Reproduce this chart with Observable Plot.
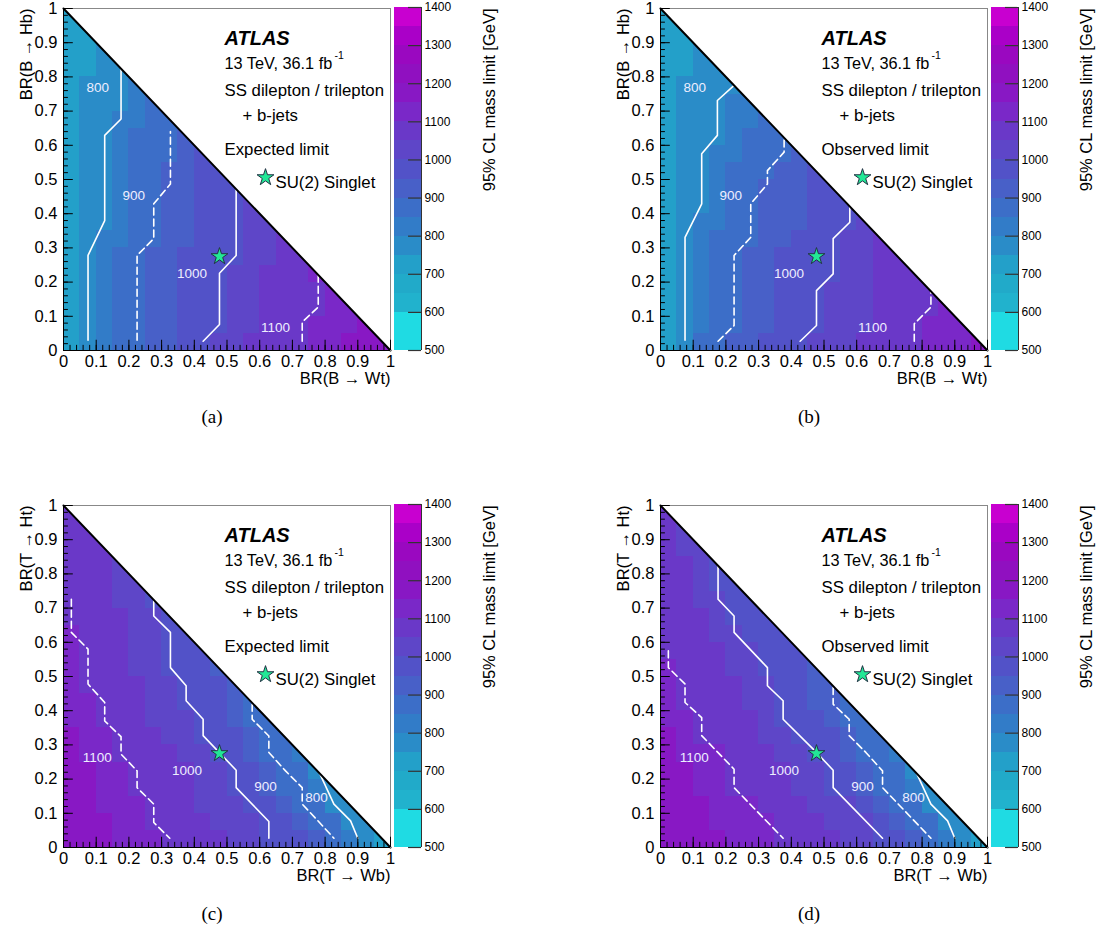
<!DOCTYPE html>
<html><head><meta charset="utf-8">
<script src="https://cdn.jsdelivr.net/npm/d3@7"></script>
<script src="https://cdn.jsdelivr.net/npm/@observablehq/plot@0.6"></script>
<style>
body{margin:0;background:#fff;}
#root{position:relative;width:1100px;height:934px;font-family:"Liberation Sans",Arial,sans-serif;}
.panel{position:absolute;width:540px;height:440px;}
.panel svg{position:absolute;top:0;}
.cap{position:absolute;width:60px;text-align:center;font-family:"Liberation Serif","Times New Roman",serif;font-size:19px;line-height:22px;color:#000;}
</style></head><body><div id="root"></div>
<script>
// ---------- colour scale (95% CL mass limit, GeV) ----------
const colorEdges = [500,550,600,650,700,750,800,850,900,950,1000,1050,1100,1150,1200,1250,1300,1350,1400];
const palette = ["#1fdbe3","#1fdbe3","#21b2cd","#21aac9","#23a0c9","#2a8cc8","#327cc8","#3c6ec8","#4860c8",
                 "#5252c8","#5e46c8","#6a38c8","#7a28c8","#8818c4","#9010c0","#9a08c0","#aa00c8","#c800d0"];
const colorTicks = [500,600,700,800,900,1000,1100,1200,1300,1400];

// ---------- axes ----------
const brTicks = [0,0.1,0.2,0.3,0.4,0.5,0.6,0.7,0.8,0.9,1];
const brTickLabels = ["0","0.1","0.2","0.3","0.4","0.5","0.6","0.7","0.8","0.9","1"];
const binWidth = 0.05;
const diagonal = [0, 1];           // BR(W)+BR(H)=1 boundary
const singletPoint = [{x: 0.477, y: 0.275}];

// ---------- cell values: rows are BR(H) bins (0-0.05, 0.05-0.1, ...), columns BR(W) bins ----------
const valuesA = [
 [740,795,835,865,895,920,940,960,995,1020,1040,1060,1075,1090,1095,1120,1135,1150,1160,1180],
 [740,795,835,865,895,920,940,960,980,995,1020,1040,1060,1080,1095,1115,1130,1145,1160],
 [740,795,835,865,895,920,940,960,980,995,1020,1035,1050,1065,1080,1095,1115,1130],
 [740,795,835,865,895,920,940,960,980,995,1020,1035,1050,1065,1080,1095,1115],
 [740,795,835,865,895,920,940,955,975,995,1010,1030,1050,1065,1080,1100],
 [740,795,835,865,895,915,935,950,970,985,995,1020,1040,1060,1080],
 [735,785,810,840,870,895,920,940,960,980,995,1020,1040,1060],
 [730,770,795,835,870,895,920,940,960,980,995,1020,1040],
 [730,770,795,835,870,895,920,940,960,980,995,1020],
 [730,770,795,830,865,890,910,935,955,975,995],
 [730,770,795,830,860,885,905,930,955,980],
 [730,770,795,830,855,880,895,925,950],
 [730,765,795,825,850,875,895,920],
 [725,760,790,810,840,865,890],
 [720,755,780,795,830,860],
 [720,750,775,795,825],
 [715,745,770,795],
 [710,740,765],
 [705,735],
 [700]
];
const valuesB = [
 [745,795,850,895,915,935,955,975,995,1015,1030,1045,1060,1075,1090,1095,1115,1130,1145,1165],
 [745,795,835,865,895,920,940,960,980,995,1015,1030,1045,1060,1080,1095,1115,1130,1145],
 [745,795,835,865,895,920,940,960,980,995,1015,1030,1045,1060,1070,1085,1095,1115],
 [745,795,835,865,895,920,940,960,980,995,1015,1030,1045,1060,1070,1085,1095],
 [745,795,835,865,895,915,930,950,965,985,995,1020,1040,1060,1080,1095],
 [745,795,835,865,895,915,930,950,965,985,995,1020,1040,1060,1080],
 [745,795,830,855,880,895,920,940,960,980,995,1020,1040,1060],
 [740,785,815,845,875,895,915,930,945,960,980,995,1020],
 [735,770,795,835,870,895,915,930,945,960,980,995],
 [735,770,795,830,860,885,905,925,945,965,985],
 [735,770,795,830,855,880,895,920,940,960],
 [735,770,795,825,845,865,885,895,920],
 [730,760,780,795,825,850,875,895],
 [730,760,780,795,820,840,860],
 [725,755,780,795,815,830],
 [725,750,770,785,795],
 [720,745,765,780],
 [715,740,760],
 [710,735],
 [705]
];
const valuesC = [
 [1190,1175,1160,1145,1130,1115,1095,1085,1065,1050,1035,1015,995,975,950,925,895,840,770,730],
 [1180,1165,1150,1130,1115,1095,1085,1070,1055,1040,1025,1010,995,965,935,895,850,795,760],
 [1175,1160,1145,1130,1115,1095,1080,1060,1040,1025,1010,995,965,935,895,850,795,765],
 [1170,1150,1135,1115,1095,1085,1070,1050,1030,1015,995,965,935,895,865,825,780],
 [1165,1150,1135,1115,1095,1080,1065,1050,1030,1015,995,965,935,895,850,795],
 [1160,1140,1120,1095,1085,1070,1050,1035,1015,995,965,935,895,870,840],
 [1155,1135,1120,1095,1080,1060,1040,1020,995,975,950,925,895,870],
 [1145,1125,1095,1085,1065,1045,1030,1010,990,960,930,895,875],
 [1140,1120,1095,1080,1060,1040,1020,995,975,950,925,895],
 [1130,1095,1085,1070,1055,1035,1020,995,975,950,930],
 [1125,1095,1080,1065,1045,1025,995,975,955,935],
 [1120,1095,1080,1060,1040,1020,995,975,955],
 [1105,1090,1075,1055,1035,1020,995,975],
 [1095,1085,1070,1050,1035,1010,990],
 [1095,1085,1065,1045,1025,995],
 [1090,1075,1060,1040,1020],
 [1085,1070,1055,1040],
 [1080,1065,1050],
 [1075,1060],
 [1070]
];
const valuesD = [
 [1190,1180,1165,1150,1140,1125,1110,1095,1085,1070,1055,1040,1020,995,965,930,895,840,775,730],
 [1185,1170,1155,1140,1125,1115,1100,1090,1075,1060,1045,1030,1010,990,945,895,850,795,760],
 [1180,1165,1150,1135,1120,1105,1090,1075,1060,1045,1030,1010,990,945,895,850,795,765],
 [1170,1155,1135,1120,1095,1085,1070,1050,1035,1015,995,965,935,895,865,825,780],
 [1165,1150,1135,1120,1095,1085,1070,1050,1035,1015,995,965,935,895,850,795],
 [1160,1140,1120,1105,1090,1070,1050,1035,1015,995,970,935,895,870,840],
 [1150,1125,1095,1085,1070,1055,1035,1020,995,975,950,915,890,865],
 [1145,1120,1095,1085,1065,1050,1030,995,975,950,925,895,880],
 [1130,1095,1085,1070,1055,1040,1020,995,970,940,915,890],
 [1125,1095,1085,1065,1050,1030,1010,990,965,940,915],
 [1105,1085,1070,1055,1040,1020,995,980,960,935],
 [1095,1085,1065,1050,1030,1010,990,970,950],
 [1090,1075,1060,1040,1020,995,980,960],
 [1085,1070,1050,1030,995,975,955],
 [1080,1060,1040,1015,990,965],
 [1075,1055,1035,995,980],
 [1070,1050,1030,995],
 [1065,1045,1025],
 [1060,1040],
 [1055]
];

// ---------- contour lines [BR(W), BR(H)] ----------
const contoursA = [
 {level:800, dashed:false, pts:[[0.075,0.03],[0.075,0.278],[0.126,0.38],[0.126,0.629],[0.176,0.677],[0.176,0.824]]},
 {level:900, dashed:true, pts:[[0.225,0.03],[0.225,0.278],[0.276,0.327],[0.276,0.429],[0.327,0.487],[0.327,0.64]]},
 {level:1000, dashed:false, pts:[[0.427,0.027],[0.477,0.076],[0.477,0.226],[0.528,0.278],[0.528,0.47]]},
 {level:1100, dashed:true, pts:[[0.73,0.027],[0.73,0.083],[0.779,0.127],[0.779,0.222]]}
];
const contoursB = [
 {level:800, dashed:false, pts:[[0.075,0.03],[0.075,0.331],[0.126,0.429],[0.126,0.575],[0.174,0.629],[0.174,0.731],[0.225,0.775]]},
 {level:900, dashed:true, pts:[[0.176,0.027],[0.225,0.073],[0.225,0.278],[0.276,0.331],[0.276,0.429],[0.327,0.487],[0.327,0.526],[0.378,0.58],[0.378,0.622]]},
 {level:1000, dashed:false, pts:[[0.427,0.027],[0.477,0.073],[0.477,0.175],[0.528,0.224],[0.528,0.327],[0.579,0.375],[0.579,0.421]]},
 {level:1100, dashed:true, pts:[[0.776,0.027],[0.776,0.078],[0.827,0.127],[0.827,0.173]]}
];
const contoursC = [
 {level:1100, dashed:true, pts:[[0.024,0.726],[0.024,0.629],[0.075,0.58],[0.075,0.478],[0.126,0.424],[0.126,0.37],[0.176,0.324],[0.176,0.273],[0.225,0.224],[0.225,0.175],[0.276,0.127],[0.276,0.073],[0.325,0.027]]},
 {level:1000, dashed:false, pts:[[0.276,0.721],[0.276,0.677],[0.327,0.629],[0.327,0.526],[0.375,0.473],[0.375,0.429],[0.427,0.375],[0.427,0.327],[0.528,0.226],[0.528,0.175],[0.628,0.076],[0.628,0.027]]},
 {level:900, dashed:true, pts:[[0.577,0.419],[0.577,0.375],[0.628,0.326],[0.628,0.278],[0.679,0.224],[0.73,0.175],[0.73,0.127],[0.778,0.078],[0.827,0.027]]},
 {level:800, dashed:false, pts:[[0.781,0.222],[0.827,0.127],[0.878,0.078],[0.9,0.027]]}
];
const contoursD = [
 {level:1100, dashed:true, pts:[[0.024,0.575],[0.024,0.526],[0.075,0.478],[0.075,0.424],[0.126,0.38],[0.126,0.327],[0.225,0.229],[0.225,0.175],[0.375,0.027]]},
 {level:1000, dashed:false, pts:[[0.176,0.824],[0.176,0.726],[0.225,0.677],[0.225,0.629],[0.327,0.526],[0.327,0.473],[0.375,0.429],[0.375,0.375],[0.477,0.278],[0.528,0.226],[0.528,0.175],[0.679,0.027]]},
 {level:900, dashed:true, pts:[[0.528,0.468],[0.528,0.419],[0.577,0.375],[0.577,0.327],[0.628,0.278],[0.679,0.224],[0.679,0.175],[0.827,0.027]]},
 {level:800, dashed:false, pts:[[0.781,0.222],[0.827,0.127],[0.878,0.078],[0.9,0.027]]}
];
const labelsA = [{t:"800",x:0.105,y:0.768},{t:"900",x:0.215,y:0.453},{t:"1000",x:0.393,y:0.226},{t:"1100",x:0.648,y:0.068}];
const labelsB = labelsA;
const labelsC = [{t:"1100",x:0.103,y:0.263},{t:"1000",x:0.378,y:0.226},{t:"900",x:0.618,y:0.177},{t:"800",x:0.774,y:0.146}];
const labelsD = labelsC;

const panels = [
 {id:"(a)", left:0,   top:0,   values:valuesA, contours:contoursA, labels:labelsA, ytitle:"BR(B \u2192 Hb)", xtitle:"BR(B \u2192 Wt)", limit:"Expected limit"},
 {id:"(b)", left:597, top:0,   values:valuesB, contours:contoursB, labels:labelsB, ytitle:"BR(B \u2192 Hb)", xtitle:"BR(B \u2192 Wt)", limit:"Observed limit"},
 {id:"(c)", left:0,   top:497, values:valuesC, contours:contoursC, labels:labelsC, ytitle:"BR(T \u2192 Ht)", xtitle:"BR(T \u2192 Wb)", limit:"Expected limit"},
 {id:"(d)", left:597, top:497, values:valuesD, contours:contoursD, labels:labelsD, ytitle:"BR(T \u2192 Ht)", xtitle:"BR(T \u2192 Wb)", limit:"Observed limit"}
];

const colorScale = {type:"threshold", domain: colorEdges.slice(1, -1), range: palette};
const minorTicks = d3.range(0, 1.0001, 0.02);
const tickData = brTicks.map((v, i) => ({v, label: brTickLabels[i]}));
const FONT = "Liberation Sans, Arial, sans-serif";
const STAR = "#22e896";

function cells(rows) {
  const out = [];
  rows.forEach((row, j) => row.forEach((v, i) => out.push({x1: i*binWidth, x2: (i+1)*binWidth, y1: j*binWidth, y2: (j+1)*binWidth, v})));
  return out;
}

function mainPlot(p) {
  const contourMarks = p.contours.map(c => Plot.line(c.pts, {x: d => d[0], y: d => d[1], stroke: "white", strokeWidth: 1.6,
      strokeDasharray: c.dashed ? "7,4" : null}));
  return Plot.plot({
    width: 392, height: 400, marginLeft: 63, marginRight: 2, marginTop: 8, marginBottom: 50,
    x: {domain: [0, 1], axis: null}, y: {domain: [0, 1], axis: null},
    color: colorScale,
    style: {fontFamily: FONT, fontSize: "16px", background: "transparent", overflow: "visible"},
    marks: [
      Plot.rect(cells(p.values), {x1: "x1", x2: "x2", y1: "y1", y2: "y2", fill: "v", shapeRendering: "crispEdges"}),
      Plot.areaY(diagonal, {x: d => d, y1: d => 1 - d, y2: 1, fill: "white"}),
      ...contourMarks,
      Plot.text(p.labels, {x: "x", y: "y", text: "t", fill: "#eeeeff", fontSize: 13.5}),
      Plot.line(diagonal, {x: d => d, y: d => 1 - d, stroke: "black", strokeWidth: 2}),
      Plot.frame({stroke: "#888", strokeWidth: 1}),
      Plot.ruleX([0], {stroke: "black"}),
      Plot.ruleY([0], {stroke: "black"}),
      Plot.ruleX(minorTicks, {y1: 0, y2: 0.015, stroke: "black"}),
      Plot.ruleX(brTicks, {y1: 0, y2: 0.03, stroke: "black"}),
      Plot.ruleY(minorTicks, {x1: 0, x2: 0.015, stroke: "black"}),
      Plot.ruleY(brTicks, {x1: 0, x2: 0.03, stroke: "black"}),
      Plot.text(tickData, {x: "v", y: 0, text: "label", dy: 11, fontSize: 16.5, fill: "black"}),
      Plot.text(tickData, {x: 0, y: "v", text: "label", dx: -6, textAnchor: "end", fontSize: 16.5, fill: "black"}),
      Plot.text([p.ytitle], {frameAnchor: "top-left", dx: -43, dy: 0, rotate: -90, textAnchor: "end", fontSize: 16.5, fill: "black"}),
      Plot.text([p.xtitle], {frameAnchor: "bottom-right", dx: 0, dy: 33, textAnchor: "end", fontSize: 16.5, fill: "black"}),
      Plot.dot(singletPoint, {x: "x", y: "y", symbol: "star", r: 5.3, fill: STAR, stroke: "#234", strokeWidth: 1}),
      Plot.text(["ATLAS"], {frameAnchor: "top-left", dx: 161, dy: 22, textAnchor: "start", fontSize: 20, fontWeight: "bold", fontStyle: "italic", fill: "black"}),
      Plot.text(["13 TeV, 36.1 fb"], {frameAnchor: "top-left", dx: 161, dy: 48.5, textAnchor: "start", fontSize: 16.3, fill: "black"}),
      Plot.text(["-1"], {frameAnchor: "top-left", dx: 271, dy: 43, textAnchor: "start", fontSize: 10.5, fill: "black"}),
      Plot.text(["SS dilepton / trilepton"], {frameAnchor: "top-left", dx: 161, dy: 75.5, textAnchor: "start", fontSize: 16.8, fill: "black"}),
      Plot.text(["+ b-jets"], {frameAnchor: "top-left", dx: 179, dy: 101, textAnchor: "start", fontSize: 16.8, fill: "black"}),
      Plot.text([p.limit], {frameAnchor: "top-left", dx: 161, dy: 134.5, textAnchor: "start", fontSize: 16.8, fill: "black"}),
      Plot.dot([0], {frameAnchor: "top-left", dx: 202, dy: 169, symbol: "star", r: 5.3, fill: STAR, stroke: "#234", strokeWidth: 1}),
      Plot.text(["SU(2) Singlet"], {frameAnchor: "top-left", dx: 212, dy: 168, textAnchor: "start", fontSize: 16.8, fill: "black"})
    ]
  });
}

function colorBar() {
  const bands = d3.pairs(colorEdges).map(([lo, hi]) => ({lo, hi, mid: (lo + hi) / 2}));
  return Plot.plot({
    width: 128, height: 400, marginLeft: 2, marginRight: 99, marginTop: 7, marginBottom: 50,
    x: {domain: [0, 1], axis: null}, y: {domain: [500, 1400], axis: null},
    color: colorScale,
    style: {fontFamily: FONT, fontSize: "12px", background: "transparent", overflow: "visible"},
    marks: [
      Plot.rect(bands, {x1: 0, x2: 1, y1: "lo", y2: "hi", fill: "mid", shapeRendering: "crispEdges"}),
      Plot.ruleY(colorTicks, {x1: 0.52, x2: 1, stroke: "#333", strokeWidth: 1.2}),
      Plot.ruleX([1], {stroke: "#333"}),
      Plot.text(colorTicks, {x: 1, y: d => d, text: d => String(d), dx: 3, textAnchor: "start", fontSize: 12, fill: "black"}),
      Plot.text(["95% CL mass limit [GeV]"], {frameAnchor: "top-left", dx: 89, dy: 1, rotate: -90, textAnchor: "end", fontSize: 16.5, fill: "black"})
    ]
  });
}

const root = document.getElementById("root");
for (const p of panels) {
  const div = document.createElement("div");
  div.className = "panel";
  div.style.left = p.left + "px";
  div.style.top = p.top + "px";
  const m = mainPlot(p);
  m.style.left = "0px";
  div.appendChild(m);
  const cb = colorBar();
  cb.style.left = "392px";
  div.appendChild(cb);
  const cap = document.createElement("div");
  cap.className = "cap";
  cap.textContent = p.id;
  cap.style.left = "182px";
  cap.style.top = "406px";
  div.appendChild(cap);
  root.appendChild(div);
}
</script></body></html>
